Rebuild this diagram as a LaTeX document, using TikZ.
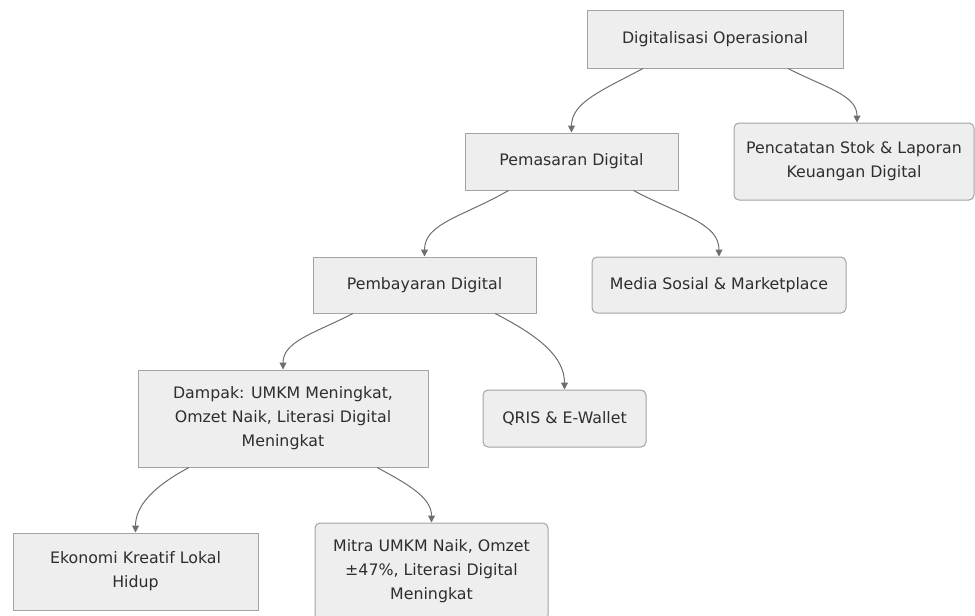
\documentclass[tikz,border=0pt]{standalone}
\usepackage{fontspec}
\setmainfont{DejaVu Sans}
\usetikzlibrary{arrows.meta}
\definecolor{boxfill}{HTML}{EEEEEE}
\definecolor{boxline}{HTML}{A3A3A3}
\definecolor{edgecol}{HTML}{6E6E6E}
\definecolor{txtcol}{HTML}{2E2E2E}
\tikzset{
  box/.style={draw=boxline, fill=boxfill, line width=1pt, inner sep=0pt,
    align=center, text=txtcol, font=\fontsize{15.8}{24}\selectfont},
  rbox/.style={box, rounded corners=5pt},
  link/.style={draw=edgecol, line width=1pt,
    -{Triangle[length=7pt,width=7pt]}, out looseness=1.25, in looseness=0.8}
}
\begin{document}
\begin{tikzpicture}[x=1pt,y=1pt]
\useasboundingbox (0,0) rectangle (975,-616);
\node[box, minimum width=256pt, minimum height=58pt] (d) at (715,-39) {Digitalisasi Operasional};
\node[rbox, minimum width=240pt, minimum height=77pt] (pc) at (854,-161.5) {Pencatatan Stok \& Laporan\\Keuangan Digital};
\node[box, minimum width=213pt, minimum height=57pt] (pm) at (571.5,-161.5) {Pemasaran Digital};
\node[box, minimum width=223pt, minimum height=56pt] (pb) at (424.5,-285) {Pembayaran Digital};
\node[rbox, minimum width=254pt, minimum height=56pt] (ms) at (719,-285) {Media Sosial \& Marketplace};
\node[box, minimum width=290pt, minimum height=97pt] (dp) at (283,-418.5) {Dampak: UMKM Meningkat,\\Omzet Naik, Literasi Digital\\Meningkat};
\node[rbox, minimum width=163pt, minimum height=57pt] (qr) at (564.5,-418.5) {QRIS \& E-Wallet};
\node[box, minimum width=245pt, minimum height=77pt] (ek) at (135.5,-571.5) {Ekonomi Kreatif Lokal\\Hidup};
\node[rbox, minimum width=233pt, minimum height=97pt] (mi) at (431.5,-571.5) {Mitra UMKM Naik, Omzet\\±47\%, Literasi Digital\\Meningkat};

\draw[link] ([xshift=-72pt]d.south) to[out=208,in=90] (pm.north);
\draw[link] ([xshift=73pt]d.south) to[out=333,in=90] ([xshift=3pt]pc.north);
\draw[link] ([xshift=-63pt]pm.south) to[out=210,in=90] (pb.north);
\draw[link] ([xshift=62pt]pm.south) to[out=332,in=90] (ms.north);
\draw[link] ([xshift=-71.5pt]pb.south) to[out=207,in=90] (dp.north);
\draw[link] ([xshift=70.5pt]pb.south) to[out=333,in=90] (qr.north);
\draw[link] ([xshift=-94pt]dp.south) to[out=208,in=90] (ek.north);
\draw[link] ([xshift=94pt]dp.south) to[out=332,in=90] (mi.north);
\end{tikzpicture}
\end{document}
